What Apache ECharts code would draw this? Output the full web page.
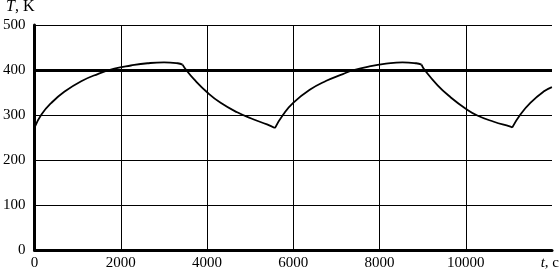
<!DOCTYPE html>
<html><head><meta charset="utf-8">
<script src="https://cdn.jsdelivr.net/npm/echarts@6/dist/echarts.min.js"></script>
<style>html,body{margin:0;padding:0;background:#fff}#c{width:559px;height:271px}</style>
</head><body><div id="c"></div>
<script>
const xTicks = [0, 2000, 4000, 6000, 8000, 10000];
const yTicks = [0, 100, 200, 300, 400, 500];
const heat1 = [[0,272],[161,301],[392,327],[698,352],[1083,375],[1467,391],[1851,403],[2235,410],[2620,415],[3003,417],[3320,415],[3433,412]];
const cool1 = [[3433,412],[3510,401],[3702,379],[4009,350],[4316,327],[4700,306],[5085,290],[5392,279],[5575,271]];
const heat2 = [[5575,271],[5768,301],[5998,327],[6382,356],[6767,376],[7150,391],[7380,399],[7765,408],[8150,414],[8533,417],[8850,415],[8975,412]];
const cool2 = [[8975,412],[9040,401],[9348,366],[9654,339],[10000,314],[10269,299],[10652,285],[11037,274],[11076,272]];
const heat3 = [[11076,272],[11267,301],[11498,327],[11805,352],[11998,362]];
const refLine = 400;

const font = '"Liberation Serif", "DejaVu Serif", serif';
const seg = d => ({type:'line', data:d, smooth:0.5, symbol:'none', lineStyle:{color:'#000', width:1.8}, z:5});
const chart = echarts.init(document.getElementById('c'), null, {renderer:'canvas'});
chart.setOption({
  animation:false,
  grid:{left:31, right:7, top:25, bottom:20},
  xAxis:{type:'value', min:0, max:12000, interval:2000,
    axisLine:{show:true, lineStyle:{color:'#000', width:3}},
    axisTick:{show:false},
    axisLabel:{color:'#000', fontFamily:font, fontSize:15, margin:6,
      formatter:v => xTicks.includes(v) ? String(v) : ''},
    splitLine:{show:true, showMinLine:false, showMaxLine:false, lineStyle:{color:'#000', width:1}}},
  yAxis:{type:'value', min:0, max:500, interval:100,
    axisLine:{show:true, lineStyle:{color:'#000', width:3}},
    axisTick:{show:false},
    axisLabel:{color:'#000', fontFamily:font, fontSize:15, margin:9,
      formatter:v => yTicks.includes(v) ? String(v) : ''},
    splitLine:{show:true, showMinLine:false, lineStyle:{color:'#000', width:1}}},
  graphic:[
    {type:'text', left:6, top:-1, style:{text:'{i|T}, K', fill:'#000', font:'16px '+font,
      rich:{i:{fontStyle:'italic', fontFamily:font, fontSize:16, fill:'#000'}}}},
    {type:'text', right:0, top:256, style:{text:'{i|t}, c', fill:'#000', font:'15px '+font,
      rich:{i:{fontStyle:'italic', fontFamily:font, fontSize:15, fill:'#000'}}}}
  ],
  series:[
    Object.assign(seg(heat1), {markLine:{silent:true, symbol:'none', label:{show:false},
      lineStyle:{color:'#000', width:3, type:'solid'}, data:[{yAxis:refLine}]}}),
    seg(cool1), seg(heat2), seg(cool2), seg(heat3)
  ]
});
</script></body></html>
